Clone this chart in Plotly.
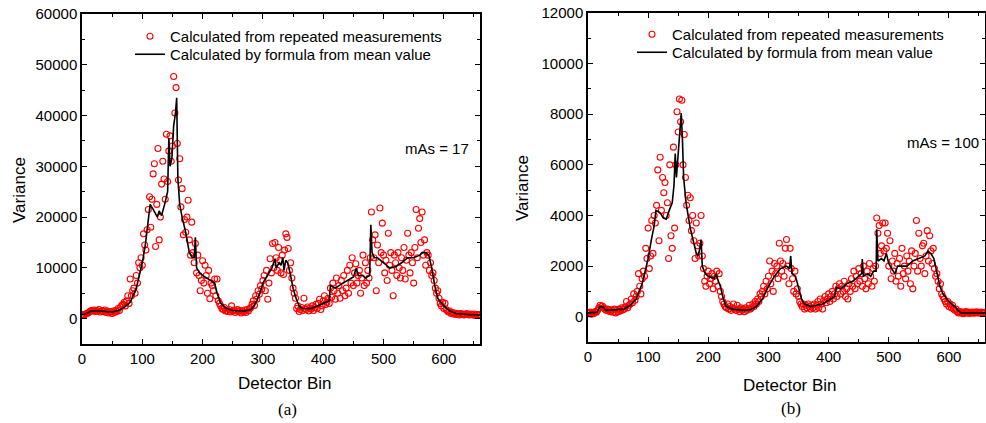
import plotly.graph_objects as go

# Measured variance, every 2nd detector bin (0, 2, 4, ... 660)
var_meas_a = [
    700, 800, 750, 900, 1000, 1100, 1300, 1500, 1600, 1500,
    1700, 1400, 1600, 1500, 1800, 1300, 1500, 1600, 1400, 1700,
    1200, 1500, 1100, 1400, 1300, 1000, 1500, 1200, 1600, 1400,
    2000, 1600, 2300, 2600, 2800, 3200, 2500, 3500, 4500, 3000,
    7800, 4500, 5500, 6000, 5000, 8500, 7000, 11000, 10000, 12000,
    10500, 16700, 14500, 13500, 17500, 21500, 24000, 18000, 23500, 28500,
    30500, 14200, 22500, 33500, 15500, 20000, 26500, 31000, 27500, 23500,
    36300, 27000, 33000, 36000, 31000, 34000, 47700, 40500, 45500, 34500,
    27300, 31500, 22000, 25600, 16500, 19500, 17000, 20000, 23300, 15500,
    12500, 19000, 13000, 11000, 14800, 9000, 12500, 8500, 5500, 7500,
    11400, 7000, 10500, 8500, 5000, 9500, 3900, 7000, 6500, 5500,
    7800, 4500, 7800, 3500, 3000, 2500, 2000, 1800, 2200, 1500,
    1600, 1400, 1800, 1300, 2500, 1500, 1700, 1200, 1500, 1800,
    1400, 1600, 1100, 1500, 1300, 1700, 1200, 1800, 1500, 2000,
    2200, 2800, 3500, 2600, 4500, 3800, 5500, 4800, 6500, 5800,
    7500, 8500, 5500, 9500, 3800, 7000, 11800, 9000, 14800, 10000,
    15000, 12000, 9500, 14000, 11500, 9000, 12500, 8700, 13500, 16700,
    16000, 13800, 9500, 11000, 8000, 6000, 5000, 4000, 2000, 2500,
    1400, 1800, 2200, 1600, 4000, 2000, 1800, 2300, 1500, 2100,
    1900, 2500, 1600, 2200, 2800, 2000, 3000, 3800, 1800, 2500,
    3500, 4500, 2800, 3200, 4000, 3000, 6000, 4200, 7000, 5500,
    3800, 8000, 5000, 6500, 4000, 7500, 5500, 8500, 4500, 6000,
    9500, 5000, 10500, 7000, 12000, 6500, 9000, 10800, 7000, 8500,
    9500, 5000, 8000, 12500, 6500, 11000, 7000, 9500, 8000, 12000,
    21000, 15500, 12000, 16500, 5500, 14500, 11000, 21800, 13000, 18800,
    12500, 9000, 11500, 7500, 16800, 10500, 13000, 9500, 4500, 12500,
    11000, 8500, 13000, 10000, 8000, 12000, 9500, 14000, 7800, 11500,
    16800, 12500, 9000, 13000, 11000, 7000, 14000, 21500, 12000, 17800,
    19700, 15000, 21000, 12500, 15500, 10500, 13000, 12500, 9500, 11000,
    8500, 9000, 7500, 6000, 5000, 5500, 4000, 3000, 2500, 3200,
    2000, 3000, 1800, 1500, 1300, 1500, 1000, 1200, 900, 1100,
    800, 1000, 900, 700, 1000, 800, 900, 700, 800, 1000,
    800, 700, 900, 800, 700, 900, 600, 800, 700, 800,
    700,
]

var_meas_b = [
    150, 120, 180, 100, 150, 130, 200, 180, 250, 350,
    450, 400, 420, 350, 300, 250, 300, 220, 280, 200,
    250, 180, 300, 150, 260, 200, 300, 230, 350, 270,
    300, 380, 600, 350, 450, 500, 700, 550, 900, 650,
    800, 1000, 1700, 1200, 900, 1500, 1800, 1600, 2700, 2300,
    3500, 1900, 2400, 3800, 2500, 4000, 3700, 4400, 5800, 3000,
    6300, 4200, 5500, 4900, 5300, 4000, 4500, 2300, 6000, 3200,
    2700, 6700, 3500, 6000, 8100, 7300, 8600, 7700, 8550, 6000,
    7200, 5500, 4400, 4800, 3800, 4700, 3400, 4000, 3000, 2300,
    3700, 2800, 2400, 2900, 4000, 2400, 1900, 1400, 1200, 1600,
    1800, 1300, 1500, 1700, 1100, 1600, 1400, 1800, 1200, 1700,
    1000, 800, 600, 500, 400, 350, 500, 300, 400, 250,
    350, 500, 300, 250, 450, 300, 200, 350, 250, 300,
    200, 350, 250, 300, 450, 300, 350, 500, 400, 600,
    500, 700, 600, 900, 800, 1000, 1200, 900, 1400, 1100,
    1600, 2200, 1300, 1800, 1000, 2100, 1700, 2000, 1500, 2900,
    2200, 1800, 2100, 1600, 2700, 3050, 2000, 1300, 2700, 1900,
    1500, 1000, 1800, 900, 1100, 800, 600, 500, 400, 500,
    300, 450, 350, 500, 400, 300, 450, 350, 500, 300,
    450, 600, 350, 700, 500, 300, 650, 800, 550, 700,
    900, 600, 800, 1000, 700, 900, 1200, 800, 1100, 1300,
    900, 1200, 1000, 1400, 800, 1100, 700, 1300, 1000, 1500,
    1200, 1800, 1100, 1600, 1300, 1900, 1400, 1700, 1200, 2000,
    1500, 1100, 1800, 1300, 2100, 1600, 1200, 1900, 1400, 2000,
    3900, 3300, 3600, 2500, 2800, 3700, 2600, 3700, 2700, 3300,
    2000, 3000, 1500, 2200, 1800, 2500, 1400, 2100, 1600, 2300,
    1200, 2700, 1700, 2000, 1500, 2400, 1800, 2200, 1300, 2600,
    1100, 2000, 2500, 3800, 1800, 3300, 2300, 2000, 2800, 2900,
    1700, 2400, 3400, 2200, 3200, 2600, 2100, 2700, 1900, 1600,
    1700, 1400, 1100, 1300, 900, 800, 700, 600, 500, 600,
    400, 500, 350, 450, 300, 250, 300, 200, 150, 200,
    150, 180, 120, 160, 200, 150, 180, 130, 170, 150,
    180, 140, 160, 190, 150, 170, 140, 180, 160, 150,
    170,
]

# Variance from the formula (mean value), breakpoints
line_bins_a = [0, 8, 15, 30, 50, 60, 70, 80, 90, 100, 105, 110, 113, 118, 122, 125,
               128, 132, 137, 142, 144, 146, 149, 152, 155, 157, 159, 162, 166, 172,
               178, 183, 186, 188, 190, 195, 200, 210, 220, 224, 230, 240, 250, 270,
               280, 285, 290, 295, 300, 305, 310, 315, 320, 322, 327, 330, 333, 335,
               338, 341, 345, 350, 355, 360, 365, 380, 390, 400, 410, 412, 420, 430,
               440, 450, 455, 458, 465, 470, 477, 479, 481, 485, 490, 495, 500, 505,
               510, 520, 530, 540, 550, 560, 565, 570, 575, 580, 585, 590, 600, 610,
               620, 640, 660]
line_var_a = [800, 1000, 1500, 1500, 1300, 1600, 2200, 3200, 6000, 11000, 14500, 19500,
              22500, 21500, 20500, 20000, 21200, 20300, 22500, 25000, 35500, 30000, 31500,
              38000, 40500, 43500, 27500, 22500, 20000, 17000, 13000, 12000, 12000, 16000,
              10000, 9000, 8500, 7800, 7000, 5000, 3000, 2000, 1600, 1500, 1800, 2500, 3500,
              5000, 7000, 8000, 9000, 10000, 11800, 10000, 11000, 10500, 12000, 9500, 11500,
              11000, 9000, 6000, 4000, 2500, 2000, 2000, 2500, 3000, 3500, 6500, 6000, 6800,
              7500, 8200, 10000, 8500, 8500, 8000, 8500, 18500, 13000, 12000, 12000, 11500,
              11000, 10500, 10000, 10200, 11000, 12000, 12000, 12500, 13000, 13000, 12500,
              10000, 6500, 4000, 2500, 1500, 1000, 800, 700]

line_bins_b = [0, 15, 20, 25, 30, 60, 70, 80, 85, 90, 95, 100, 105, 110, 113, 120, 125,
               130, 135, 140, 143, 145, 147, 150, 153, 155, 157, 159, 163, 166, 170, 175,
               180, 183, 186, 188, 190, 195, 200, 210, 213, 216, 220, 225, 230, 240, 260,
               270, 280, 290, 300, 310, 320, 330, 335, 337, 339, 345, 350, 355, 360, 370,
               380, 390, 400, 410, 413, 420, 430, 440, 450, 455, 456, 458, 465, 470, 475,
               479, 480, 482, 488, 492, 496, 500, 505, 510, 515, 530, 540, 550, 560, 565,
               570, 575, 580, 585, 590, 600, 610, 615, 620, 660]
line_var_b = [150, 170, 400, 380, 250, 300, 450, 700, 1000, 1300, 1800, 2300, 3000, 3600,
              4200, 4100, 3900, 3850, 4200, 4500, 5200, 6450, 5500, 6500, 7300, 8050, 7000,
              5500, 4500, 4000, 3500, 3000, 2500, 2400, 2700, 3050, 2000, 1700, 1600, 1500,
              1700, 1450, 1200, 700, 400, 300, 250, 280, 400, 700, 1200, 1600, 1900, 2000,
              1900, 2400, 1700, 1600, 1100, 700, 500, 400, 450, 500, 650, 800, 1150, 1100,
              1300, 1400, 1600, 1700, 2280, 1600, 1700, 1600, 1800, 1800, 3450, 2200, 2300,
              2200, 2500, 2100, 1900, 1700, 2000, 2000, 2200, 2300, 2400, 2600, 2500, 2300,
              1800, 1200, 900, 600, 400, 250, 150, 150]

bins_a = [2 * i for i in range(len(var_meas_a))]
bins_b = [2 * i for i in range(len(var_meas_b))]

FONT = "Arial, Liberation Sans, sans-serif"
SERIF = "Times New Roman, Liberation Serif, serif"

W, H = 986, 423


def px(x):
    return x / W


def py(y):
    return 1 - y / H


fig = go.Figure()

panels = [
    ("x", "y", ("legend", "legend2"), bins_a, var_meas_a, line_bins_a, line_var_a),
    ("x2", "y2", ("legend3", "legend4"), bins_b, var_meas_b, line_bins_b, line_var_b),
]
for xa, ya, lgs, bx, vy, lx, ly in panels:
    fig.add_trace(go.Scatter(
        x=bx, y=vy, mode="markers", xaxis=xa, yaxis=ya, legend=lgs[0],
        name="Calculated from repeated measurements",
        marker=dict(symbol="circle-open", size=6, color="#ff0000",
                    line=dict(width=1.1, color="#ff0000")),
    ))
    fig.add_trace(go.Scatter(
        x=lx, y=ly, mode="lines", xaxis=xa, yaxis=ya, legend=lgs[1],
        name="Calculated by formula from mean value",
        line=dict(color="black", width=1.6),
    ))

axis_common = dict(
    showline=True, linecolor="black", linewidth=1.5, mirror="allticks",
    ticks="inside", ticklen=5, tickwidth=1.2, tickcolor="black",
    showgrid=False, zeroline=False, automargin=False,
    tickformat="d", separatethousands=False,
    tickfont=dict(family=FONT, size=15, color="black"),
)
minor_x = dict(dtick=50, ticks="inside", ticklen=3, tickcolor="black")


def leg(x, y):
    return dict(x=px(x), y=py(y), xanchor="left", yanchor="top",
                bgcolor="rgba(0,0,0,0)",
                font=dict(family=FONT, size=15, color="black"))


fig.update_layout(
    width=W, height=H,
    margin=dict(l=0, r=0, t=0, b=0),
    paper_bgcolor="white", plot_bgcolor="white",
    showlegend=True,
    xaxis=dict(domain=[px(82), px(480)], range=[0, 660], dtick=100,
               minor=minor_x, anchor="y", **axis_common),
    yaxis=dict(domain=[py(344), py(14)], range=[-5000, 60000], dtick=10000,
               minor=dict(dtick=5000, ticks="inside", ticklen=3, tickcolor="black"),
               anchor="x", **axis_common),
    xaxis2=dict(domain=[px(588), px(985)], range=[0, 660], dtick=100,
                minor=minor_x, anchor="y2", **axis_common),
    yaxis2=dict(domain=[py(342), py(13)], range=[-1000, 12000], dtick=2000,
                minor=dict(dtick=1000, ticks="inside", ticklen=3, tickcolor="black"),
                anchor="x2", **axis_common),
    legend=leg(130, 20),
    legend2=leg(130, 38),
    legend3=leg(632, 18),
    legend4=leg(632, 36),
)

annots = [
    (437, 149, "mAs = 17", FONT, 15, 0),
    (943, 143, "mAs = 100", FONT, 15, 0),
    (285, 383, "Detector Bin", FONT, 17, 0),
    (790, 385, "Detector Bin", FONT, 17, 0),
    (19, 190, "Variance", FONT, 17, -90),
    (522, 188, "Variance", FONT, 17, -90),
    (287, 409, "(a)", SERIF, 17, 0),
    (791, 408, "(b)", SERIF, 17, 0),
]
for ax, ay, txt, fam, sz, ang in annots:
    fig.add_annotation(x=px(ax), y=py(ay), xref="paper", yref="paper", text=txt,
                       showarrow=False, textangle=ang, xanchor="center", yanchor="middle",
                       font=dict(family=fam, size=sz, color="black"))

# drop the default 8px page margin so the figure fills the window
fig.write_html("out.html", config={"displayModeBar": False},
               post_script="document.body.style.margin = '0px';")
